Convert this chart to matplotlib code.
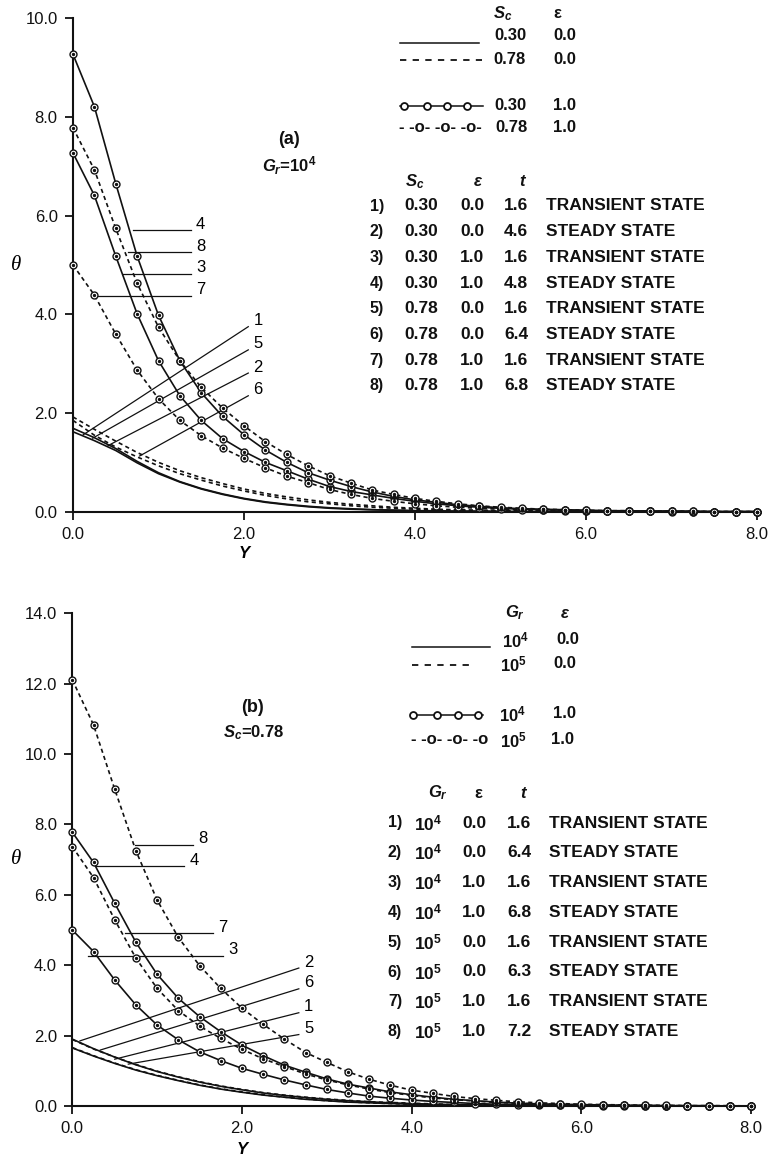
import matplotlib
matplotlib.use("Agg")
import matplotlib.pyplot as plt

plt.rcParams.update({
    'font.family': ['Liberation Sans', 'DejaVu Sans'],
    'mathtext.fontset': 'custom',
    'mathtext.rm': 'Liberation Sans:bold',
    'mathtext.it': 'Liberation Sans:italic:bold',
    'mathtext.bf': 'Liberation Sans:bold',
})

# ── Data ──────────────────────────────────────────────────────────────────────
Y_GRID = [0.00, 0.25, 0.50, 0.75, 1.00, 1.25, 1.50, 1.75, 2.00, 2.25, 2.50,
          2.75, 3.00, 3.25, 3.50, 3.75, 4.00, 4.25, 4.50, 4.75, 5.00, 5.25,
          5.50, 5.75, 6.00, 6.25, 6.50, 6.75, 7.00, 7.25, 7.50, 7.75, 8.00]

# panel (a): Gr = 1e4
a_c1 = [1.62, 1.44, 1.24, 0.99, 0.77, 0.60, 0.46, 0.35, 0.26, 0.19, 0.14,
        0.10, 0.07, 0.05, 0.04, 0.03, 0.02, 0.01, 0.01, 0.01, 0.00, 0.00,
        0.00, 0.00, 0.00, 0.00, 0.00, 0.00, 0.00, 0.00, 0.00, 0.00, 0.00]
a_c2 = [1.69, 1.50, 1.28, 1.02, 0.79, 0.61, 0.47, 0.36, 0.27, 0.20, 0.15,
        0.11, 0.08, 0.06, 0.04, 0.03, 0.02, 0.02, 0.01, 0.01, 0.01, 0.00,
        0.00, 0.00, 0.00, 0.00, 0.00, 0.00, 0.00, 0.00, 0.00, 0.00, 0.00]
a_c3 = [7.27, 6.41, 5.18, 4.01, 3.06, 2.35, 1.85, 1.48, 1.22, 1.00, 0.83,
        0.66, 0.51, 0.41, 0.34, 0.27, 0.21, 0.16, 0.12, 0.09, 0.07, 0.05,
        0.04, 0.03, 0.02, 0.02, 0.01, 0.01, 0.01, 0.00, 0.00, 0.00, 0.00]
a_c4 = [9.27, 8.21, 6.65, 5.18, 3.98, 3.06, 2.41, 1.93, 1.56, 1.25, 1.00,
        0.79, 0.64, 0.51, 0.40, 0.31, 0.24, 0.19, 0.14, 0.11, 0.08, 0.06,
        0.05, 0.04, 0.03, 0.02, 0.02, 0.01, 0.01, 0.01, 0.00, 0.00, 0.00]
a_c5 = [1.85, 1.55, 1.31, 1.11, 0.93, 0.77, 0.64, 0.52, 0.42, 0.33, 0.26,
        0.20, 0.16, 0.12, 0.09, 0.07, 0.05, 0.04, 0.03, 0.02, 0.02, 0.01,
        0.01, 0.01, 0.00, 0.00, 0.00, 0.00, 0.00, 0.00, 0.00, 0.00, 0.00]
a_c6 = [1.92, 1.67, 1.43, 1.20, 1.00, 0.83, 0.69, 0.57, 0.46, 0.37, 0.30,
        0.24, 0.19, 0.15, 0.12, 0.09, 0.07, 0.05, 0.04, 0.03, 0.02, 0.02,
        0.01, 0.01, 0.01, 0.00, 0.00, 0.00, 0.00, 0.00, 0.00, 0.00, 0.00]
a_c7 = [5.00, 4.39, 3.60, 2.87, 2.29, 1.85, 1.54, 1.29, 1.08, 0.89, 0.72,
        0.59, 0.45, 0.35, 0.27, 0.21, 0.16, 0.12, 0.09, 0.07, 0.05, 0.04,
        0.03, 0.02, 0.02, 0.01, 0.01, 0.01, 0.00, 0.00, 0.00, 0.00, 0.00]
a_c8 = [7.78, 6.93, 5.74, 4.63, 3.74, 3.06, 2.52, 2.10, 1.74, 1.42, 1.16,
        0.93, 0.73, 0.58, 0.44, 0.35, 0.27, 0.21, 0.16, 0.12, 0.09, 0.07,
        0.05, 0.04, 0.03, 0.02, 0.02, 0.01, 0.01, 0.01, 0.00, 0.00, 0.00]

# panel (b): Sc = 0.78
b_c1 = [1.65, 1.42, 1.21, 1.02, 0.86, 0.72, 0.59, 0.48, 0.39, 0.31, 0.25,
        0.19, 0.15, 0.11, 0.09, 0.07, 0.05, 0.04, 0.03, 0.02, 0.02, 0.01,
        0.01, 0.01, 0.00, 0.00, 0.00, 0.00, 0.00, 0.00, 0.00, 0.00, 0.00]
b_c2 = [1.90, 1.63, 1.39, 1.17, 0.98, 0.82, 0.68, 0.56, 0.46, 0.37, 0.30,
        0.24, 0.19, 0.15, 0.12, 0.09, 0.07, 0.05, 0.04, 0.03, 0.02, 0.02,
        0.01, 0.01, 0.01, 0.00, 0.00, 0.00, 0.00, 0.00, 0.00, 0.00, 0.00]
b_c3 = [5.00, 4.39, 3.58, 2.87, 2.30, 1.88, 1.54, 1.29, 1.07, 0.90, 0.74,
        0.60, 0.47, 0.37, 0.28, 0.22, 0.17, 0.13, 0.10, 0.07, 0.05, 0.04,
        0.03, 0.02, 0.02, 0.01, 0.01, 0.01, 0.00, 0.00, 0.00, 0.00, 0.00]
b_c4 = [7.78, 6.92, 5.76, 4.65, 3.74, 3.06, 2.54, 2.11, 1.73, 1.43, 1.16,
        0.96, 0.77, 0.62, 0.51, 0.40, 0.32, 0.25, 0.19, 0.15, 0.11, 0.08,
        0.06, 0.05, 0.04, 0.03, 0.02, 0.02, 0.01, 0.01, 0.01, 0.00, 0.00]
b_c5 = [1.66, 1.43, 1.22, 1.03, 0.87, 0.73, 0.60, 0.49, 0.40, 0.32, 0.25,
        0.20, 0.15, 0.12, 0.09, 0.07, 0.05, 0.04, 0.03, 0.02, 0.02, 0.01,
        0.01, 0.01, 0.00, 0.00, 0.00, 0.00, 0.00, 0.00, 0.00, 0.00, 0.00]
b_c6 = [1.89, 1.62, 1.39, 1.18, 0.99, 0.83, 0.69, 0.57, 0.47, 0.38, 0.31,
        0.25, 0.20, 0.16, 0.12, 0.10, 0.08, 0.06, 0.04, 0.03, 0.03, 0.02,
        0.01, 0.01, 0.01, 0.00, 0.00, 0.00, 0.00, 0.00, 0.00, 0.00, 0.00]
b_c7 = [7.37, 6.49, 5.29, 4.20, 3.34, 2.71, 2.27, 1.92, 1.61, 1.34, 1.12,
        0.91, 0.74, 0.60, 0.48, 0.38, 0.30, 0.23, 0.18, 0.14, 0.10, 0.08,
        0.06, 0.04, 0.03, 0.02, 0.02, 0.01, 0.01, 0.01, 0.00, 0.00, 0.00]
b_c8 = [12.11, 10.83, 9.00, 7.25, 5.85, 4.79, 3.99, 3.34, 2.78, 2.32, 1.90,
        1.52, 1.24, 0.97, 0.76, 0.59, 0.45, 0.36, 0.27, 0.21, 0.16, 0.12,
        0.09, 0.07, 0.05, 0.04, 0.03, 0.02, 0.02, 0.01, 0.01, 0.01, 0.00]

# (curve, dashed?, markers?)
A_CURVES = [(a_c1, False, False), (a_c2, False, False), (a_c5, True, False),
            (a_c6, True, False), (a_c3, False, True), (a_c4, False, True),
            (a_c7, True, True), (a_c8, True, True)]
B_CURVES = [(b_c1, False, False), (b_c2, False, False), (b_c5, True, False),
            (b_c6, True, False), (b_c3, False, True), (b_c4, False, True),
            (b_c7, True, True), (b_c8, True, True)]

# leader lines: label, (x0, y0), (x1, y1)
A_LEADERS = [('4', (0.70, 5.71), (1.38, 5.71)), ('8', (0.64, 5.26), (1.38, 5.26)),
             ('3', (0.58, 4.82), (1.38, 4.82)), ('7', (0.27, 4.38), (1.38, 4.38)),
             ('1', (0.12, 1.56), (2.05, 3.75)), ('5', (0.23, 1.49), (2.05, 3.28)),
             ('2', (0.41, 1.34), (2.05, 2.81)), ('6', (0.78, 1.13), (2.05, 2.35))]
B_LEADERS = [('8', (0.74, 7.43), (1.42, 7.43)), ('4', (0.28, 6.82), (1.32, 6.82)),
             ('7', (0.62, 4.91), (1.66, 4.91)), ('3', (0.19, 4.27), (1.78, 4.27)),
             ('2', (0.09, 1.85), (2.67, 3.92)), ('6', (0.33, 1.59), (2.67, 3.33)),
             ('1', (0.50, 1.33), (2.67, 2.65)), ('5', (0.66, 1.19), (2.67, 2.03))]

A_ROWS = [('1)', '0.30', '0.0', '1.6', 'TRANSIENT STATE'),
          ('2)', '0.30', '0.0', '4.6', 'STEADY STATE'),
          ('3)', '0.30', '1.0', '1.6', 'TRANSIENT STATE'),
          ('4)', '0.30', '1.0', '4.8', 'STEADY STATE'),
          ('5)', '0.78', '0.0', '1.6', 'TRANSIENT STATE'),
          ('6)', '0.78', '0.0', '6.4', 'STEADY STATE'),
          ('7)', '0.78', '1.0', '1.6', 'TRANSIENT STATE'),
          ('8)', '0.78', '1.0', '6.8', 'STEADY STATE')]
B_ROWS = [('1)', '$10^4$', '0.0', '1.6', 'TRANSIENT STATE'),
          ('2)', '$10^4$', '0.0', '6.4', 'STEADY STATE'),
          ('3)', '$10^4$', '1.0', '1.6', 'TRANSIENT STATE'),
          ('4)', '$10^4$', '1.0', '6.8', 'STEADY STATE'),
          ('5)', '$10^5$', '0.0', '1.6', 'TRANSIENT STATE'),
          ('6)', '$10^5$', '0.0', '6.3', 'STEADY STATE'),
          ('7)', '$10^5$', '1.0', '1.6', 'TRANSIENT STATE'),
          ('8)', '$10^5$', '1.0', '7.2', 'STEADY STATE')]

INK = '#111111'
DASH = (0, (2.5, 2.0))
W, H = 770, 1158


def draw_panel(ax, curves, leaders, ymax):
    for y, dashed, marks in curves:
        ax.plot(Y_GRID, y, color=INK, lw=1.2, ls=DASH if dashed else '-',
                clip_on=False, zorder=3)
        if marks:
            ax.plot(Y_GRID, y, ls='none', marker='o', ms=5, mfc='white',
                    mec=INK, mew=1.0, clip_on=False, zorder=4)
            ax.plot(Y_GRID, y, ls='none', marker='o', ms=1.4, color=INK,
                    clip_on=False, zorder=5)
    for lab, (x0, y0), (x1, y1) in leaders:
        ax.plot([x0, x1], [y0, y1], color=INK, lw=0.9, zorder=2)
        ax.text(x1 + 0.06, y1 + 0.012 * ymax, lab, fontsize=12, va='center', ha='left')
    ax.set_xlim(0, 8)
    ax.set_ylim(0, ymax)
    ax.set_xticks([0, 2, 4, 6, 8])
    ax.set_xticklabels(['%.1f' % v for v in [0, 2, 4, 6, 8]])
    yt = list(range(0, ymax + 1, 2))
    ax.set_yticks(yt)
    ax.set_yticklabels(['%.1f' % v for v in yt])
    for s in ['top', 'right']:
        ax.spines[s].set_visible(False)
    for s in ['left', 'bottom']:
        ax.spines[s].set_linewidth(1.5)
        ax.spines[s].set_color(INK)
    ax.tick_params(direction='out', length=6, width=1.3, pad=5, labelsize=12, colors=INK)
    ax.patch.set_alpha(0)


fig = plt.figure(figsize=(W / 100, H / 100), dpi=100)
axA = fig.add_axes([73 / W, (H - 511.7) / H, 684 / W, 493.4 / H])
axB = fig.add_axes([72.3 / W, 52 / H, 678.7 / W, 492.7 / H])
draw_panel(axA, A_CURVES, A_LEADERS, 10)
draw_panel(axB, B_CURVES, B_LEADERS, 14)

for ax, ylab_y in [(axA, -0.084), (axB, -0.089)]:
    ax.text(-0.083, 0.5, 'θ', transform=ax.transAxes, fontsize=15, style='italic',
            family=['Liberation Serif', 'DejaVu Serif'], ha='center', va='center')
    ax.text(0.25, ylab_y, 'Y', transform=ax.transAxes, fontsize=12, style='italic',
            weight='bold', ha='center', va='center')

# overlay in pixel coordinates for the legend tables
ov = fig.add_axes([0, 0, 1, 1])
ov.set_xlim(0, W)
ov.set_ylim(H, 0)
ov.axis('off')


def t(x, y, s, size=12, ha='center', **kw):
    ov.text(x, y, s, fontsize=size, ha=ha, va='center', weight='bold', color=INK, **kw)


def sample(x0, x1, y, style):
    if style == 'solid':
        ov.plot([x0, x1], [y, y], color=INK, lw=1.1)
    elif style == 'dashed':
        ov.plot([x0, x1], [y, y], color=INK, lw=1.3, ls=(0, (3.5, 3.5)))


def circles(x0, x1, y, xs):
    ov.plot([x0, x1], [y, y], color=INK, lw=1.1)
    ov.plot(xs, [y] * len(xs), ls='none', marker='o', ms=5, mfc='white', mec=INK, mew=1.3)


# panel (a) labels
t(289, 140, '(a)', size=13)
t(289, 166, '$G_r$=$10^4$', size=12)
t(503, 14, '$S_c$', size=12)
t(557, 13, 'ε', size=12)
sample(400, 479, 43, 'solid')
t(510, 36, '0.30'); t(565, 36, '0.0')
sample(400, 482, 60, 'dashed')
t(509, 59, '0.78'); t(565, 59, '0.0')
circles(400, 483, 106, [404, 426.7, 446.7, 467.3])
t(510, 105, '0.30'); t(565, 105, '1.0')
t(399, 127, '- -o- -o- -o-', size=12, ha='left')
t(512, 127, '0.78'); t(565, 127, '1.0')

t(415, 182, '$S_c$', size=12)
t(478, 182, 'ε', size=12, style='italic')
t(522, 182, 't', size=12, style='italic')
for i, (n, sc, eps, tt, state) in enumerate(A_ROWS):
    yy = 206 + 25.67 * i
    t(376.7, yy, n, size=11.5)
    t(421, yy, sc, size=12.5)
    t(472, yy, eps, size=12.5)
    t(516, yy, tt, size=12.5)
    t(545.7, yy, state, size=12.5, ha='left')

# panel (b) labels
t(252, 708, '(b)', size=13)
t(254, 733, '$S_c$=0.78', size=12)
t(515, 613, '$G_r$', size=12)
t(565, 613, 'ε', size=12, style='italic')
sample(412, 490, 647, 'solid')
t(516, 640, '$10^4$'); t(568, 640, '0.0')
sample(412, 472, 665, 'dashed')
t(513, 664, '$10^5$'); t(565, 664, '0.0')
circles(412, 483, 715, [413.3, 437.3, 458.3, 478.3])
t(513, 714, '$10^4$'); t(565, 714, '1.0')
t(411, 740, '- -o- -o- -o', size=12, ha='left')
t(513, 740, '$10^5$'); t(562, 740, '1.0')

t(438, 793, '$G_r$', size=12)
t(478, 793, 'ε', size=12)
t(523, 793, 't', size=12, style='italic')
for i, (n, gr, eps, tt, state) in enumerate(B_ROWS):
    yy = 823 + 29.8 * i
    t(395, yy, n, size=11.5)
    t(428, yy, gr, size=12.5)
    t(474, yy, eps, size=12.5)
    t(519, yy, tt, size=12.5)
    t(549, yy, state, size=12.5, ha='left')

fig.savefig('out.png', dpi=100)
